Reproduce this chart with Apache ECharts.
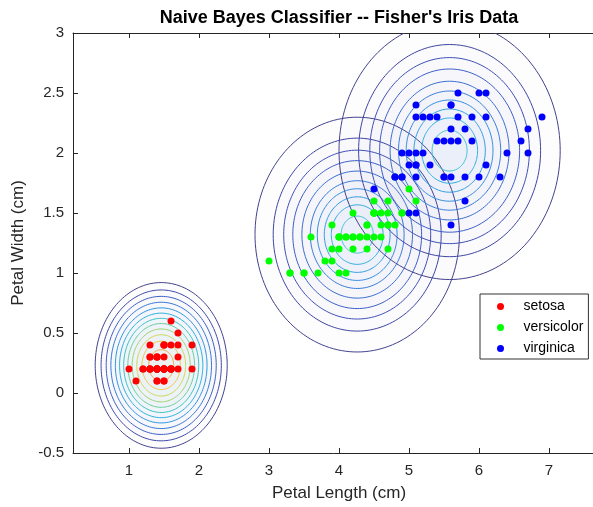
<!DOCTYPE html>
<html>
<head>
<meta charset="utf-8">
<script src="https://cdn.jsdelivr.net/npm/echarts@6/dist/echarts.min.js"></script>
<style>
  html, body { margin: 0; padding: 0; background: #fff; }
  #main { width: 593px; height: 507px; }
</style>
</head>
<body>
<div id="main"></div>
<script>
var xTicks = [1, 2, 3, 4, 5, 6, 7]
var classNames = ['setosa', 'versicolor', 'virginica']
var classColors = ['#ff0000', '#00ff00', '#0000ff']

// Fisher's iris, petal length / petal width
var setosaLength = [1.4, 1.4, 1.3, 1.5, 1.4, 1.7, 1.4, 1.5, 1.4, 1.5, 1.5, 1.6, 1.4, 1.1, 1.2, 1.5, 1.3, 1.4, 1.7, 1.5, 1.7, 1.5, 1.0, 1.7, 1.9, 1.6, 1.6, 1.5, 1.4, 1.6, 1.6, 1.5, 1.5, 1.4, 1.5, 1.2, 1.3, 1.4, 1.3, 1.5, 1.3, 1.3, 1.3, 1.6, 1.9, 1.4, 1.6, 1.4, 1.5, 1.4]
var setosaWidth = [0.2, 0.2, 0.2, 0.2, 0.2, 0.4, 0.3, 0.2, 0.2, 0.1, 0.2, 0.2, 0.1, 0.1, 0.2, 0.4, 0.4, 0.3, 0.3, 0.3, 0.2, 0.4, 0.2, 0.5, 0.2, 0.2, 0.4, 0.2, 0.2, 0.2, 0.2, 0.4, 0.1, 0.2, 0.2, 0.2, 0.2, 0.1, 0.2, 0.2, 0.3, 0.3, 0.2, 0.6, 0.4, 0.3, 0.2, 0.2, 0.2, 0.2]
var versicolorLength = [4.7, 4.5, 4.9, 4.0, 4.6, 4.5, 4.7, 3.3, 4.6, 3.9, 3.5, 4.2, 4.0, 4.7, 3.6, 4.4, 4.5, 4.1, 4.5, 3.9, 4.8, 4.0, 4.9, 4.7, 4.3, 4.4, 4.8, 5.0, 4.5, 3.5, 3.8, 3.7, 3.9, 5.1, 4.5, 4.5, 4.7, 4.4, 4.1, 4.0, 4.4, 4.6, 4.0, 3.3, 4.2, 4.2, 4.2, 4.3, 3.0, 4.1]
var versicolorWidth = [1.4, 1.5, 1.5, 1.3, 1.5, 1.3, 1.6, 1.0, 1.3, 1.4, 1.0, 1.5, 1.0, 1.4, 1.3, 1.4, 1.5, 1.0, 1.5, 1.1, 1.8, 1.3, 1.5, 1.2, 1.3, 1.4, 1.4, 1.7, 1.5, 1.0, 1.1, 1.0, 1.2, 1.6, 1.5, 1.6, 1.5, 1.3, 1.3, 1.3, 1.2, 1.4, 1.2, 1.0, 1.3, 1.2, 1.3, 1.3, 1.1, 1.3]
var virginicaLength = [6.0, 5.1, 5.9, 5.6, 5.8, 6.6, 4.5, 6.3, 5.8, 6.1, 5.1, 5.3, 5.5, 5.0, 5.1, 5.3, 5.5, 6.7, 6.9, 5.0, 5.7, 4.9, 6.7, 4.9, 5.7, 6.0, 4.8, 4.9, 5.6, 5.8, 6.1, 6.4, 5.6, 5.1, 5.6, 6.1, 5.6, 5.5, 4.8, 5.4, 5.6, 5.1, 5.1, 5.9, 5.7, 5.2, 5.0, 5.2, 5.4, 5.1]
var virginicaWidth = [2.5, 1.9, 2.1, 1.8, 2.2, 2.1, 1.7, 1.8, 1.8, 2.5, 2.0, 1.9, 2.1, 2.0, 2.4, 2.3, 1.8, 2.2, 2.3, 1.5, 2.3, 2.0, 2.0, 1.8, 2.1, 1.8, 1.8, 1.8, 2.1, 1.6, 1.9, 2.0, 2.2, 1.5, 1.4, 2.3, 2.4, 1.8, 1.8, 2.1, 2.4, 2.3, 1.9, 2.3, 2.5, 2.3, 1.9, 2.0, 2.3, 1.8]

// contour rings of each class density: centre, x semi-axes (cm), y/x ratio
var setosaCenter = [1.46, 0.23]
var setosaRings = [0.943, 0.859, 0.786, 0.719, 0.655, 0.595, 0.536, 0.477, 0.415, 0.349, 0.275, 0.179]
var versicolorCenter = [4.26, 1.32]
var versicolorRings = [1.46, 1.20, 1.05, 0.92, 0.79, 0.67, 0.57, 0.47, 0.37, 0.23]
var virginicaCenter = [5.58, 2.02]
var virginicaRings = [1.58, 1.30, 1.14, 1.00, 0.85, 0.73, 0.62, 0.51, 0.40, 0.25]
var ringAspect = [0.732, 0.67, 0.68]

var setosaRingColors = ['#42428f', '#4049a8', '#3c5fc4', '#3479d6', '#2c95df', '#29b0db', '#38c3c0', '#66ce98', '#9cd56e', '#ccd750', '#efc43c', '#f7a334']
var otherRingColors = ['#42428f', '#4045a2', '#3f50b6', '#3b5ec6', '#386dd1', '#357cd9', '#318cdf', '#2d9ce1', '#2badde', '#38bfcf']

function zip (a, b) {
  return a.map(function (v, i) { return [v, b[i]] })
}

function ringSeries (center, radii, aspect, colors) {
  return {
    type: 'custom',
    clip: true,
    silent: true,
    z: 1,
    data: radii.map(function (r, i) { return [center[0], center[1], r, i] }),
    renderItem: function (params, api) {
      var cx = api.value(0)
      var cy = api.value(1)
      var rx = api.value(2)
      var ry = rx * aspect
      var col = colors[api.value(3)]
      var pts = []
      for (var i = 0; i < 160; i++) {
        var t = Math.PI * 2 * i / 160
        pts.push(api.coord([cx + rx * Math.cos(t), cy + ry * Math.sin(t)]))
      }
      return {
        type: 'polygon',
        shape: { points: pts },
        style: { fill: echarts.color.modifyAlpha(col, 0.012), stroke: col, lineWidth: 1 }
      }
    }
  }
}

function pointSeries (i, data) {
  return {
    name: classNames[i],
    type: 'scatter',
    symbol: 'circle',
    symbolSize: 7,
    z: 3,
    itemStyle: { color: classColors[i], opacity: 1 },
    data: data
  }
}

var chart = echarts.init(document.getElementById('main'))
var font = 'Liberation Sans, Arial, Helvetica, sans-serif'
var axisCol = '#262626'

var option = {
  animation: false,
  backgroundColor: '#fff',
  title: {
    text: "Naive Bayes Classifier -- Fisher's Iris Data",
    left: 339,
    top: 9,
    padding: 0,
    textAlign: 'center',
    textStyle: { fontFamily: font, fontSize: 18, fontWeight: 'bold', color: '#000' }
  },
  legend: {
    orient: 'vertical',
    left: 480,
    top: 294,
    padding: [2, 5, 0, 17],
    itemGap: 0,
    itemWidth: 36,
    itemHeight: 7,
    icon: 'circle',
    borderColor: '#333',
    borderWidth: 1,
    borderRadius: 0,
    backgroundColor: '#fff',
    data: classNames,
    textStyle: { fontFamily: font, fontSize: 14, color: '#000', lineHeight: 21 }
  },
  grid: { left: 73, top: 33, width: 532, height: 420, outerBoundsMode: 'none' },
  xAxis: [{
    type: 'value',
    min: 0.2,
    max: 7.8,
    name: 'Petal Length (cm)',
    nameLocation: 'middle',
    nameGap: 32,
    nameTextStyle: { fontFamily: font, fontSize: 17, color: '#262626' },
    axisLine: { onZero: false, lineStyle: { color: axisCol, width: 1 } },
    axisTick: { inside: true, length: 5, customValues: xTicks, lineStyle: { color: axisCol } },
    axisLabel: { customValues: xTicks, margin: 10, fontFamily: font, fontSize: 15, color: '#262626' },
    splitLine: { show: false }
  }, {
    type: 'value',
    position: 'top',
    min: 0.2,
    max: 7.8,
    axisLine: { onZero: false, lineStyle: { color: axisCol, width: 1 } },
    axisTick: { inside: true, length: 5, customValues: xTicks, lineStyle: { color: axisCol } },
    axisLabel: { show: false },
    splitLine: { show: false }
  }],
  yAxis: {
    type: 'value',
    min: -0.5,
    max: 3,
    interval: 0.5,
    name: 'Petal Width (cm)',
    nameLocation: 'middle',
    nameGap: 36,
    nameTextStyle: { fontFamily: font, fontSize: 17, color: '#262626' },
    axisLine: { show: true, onZero: false, lineStyle: { color: axisCol, width: 1 } },
    axisTick: { show: true, inside: true, length: 5, lineStyle: { color: axisCol } },
    axisLabel: { margin: 9, fontFamily: font, fontSize: 15, color: '#262626' },
    splitLine: { show: false }
  },
  series: [
    ringSeries(setosaCenter, setosaRings, ringAspect[0], setosaRingColors),
    ringSeries(versicolorCenter, versicolorRings, ringAspect[1], otherRingColors),
    ringSeries(virginicaCenter, virginicaRings, ringAspect[2], otherRingColors),
    pointSeries(0, zip(setosaLength, setosaWidth)),
    pointSeries(1, zip(versicolorLength, versicolorWidth)),
    pointSeries(2, zip(virginicaLength, virginicaWidth))
  ]
}

chart.setOption(option)
</script>
</body>
</html>
